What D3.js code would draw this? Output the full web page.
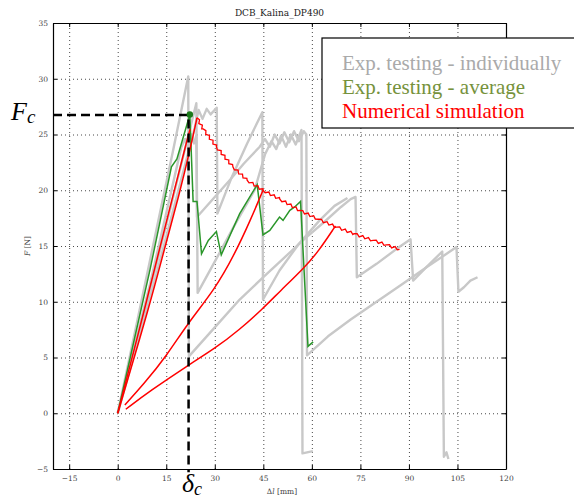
<!DOCTYPE html>
<html><head><meta charset="utf-8">
<script src="https://cdn.jsdelivr.net/npm/d3@7"></script>
<style>body{margin:0;background:#fff}svg{display:block}</style>
</head><body>
<svg id="c" width="574" height="501"></svg>
<script>
// ---------- data ----------
const title = "DCB_Kalina_DP490";
const xTicks = [-15,0,15,30,45,60,75,90,105,120];
const yTicks = [-5,0,5,10,15,20,25,30,35];
const legendLabels = ["Exp. testing - individually","Exp. testing - average","Numerical simulation"];

// experimental specimens (individually)
const specA = [[0,0],[6,8.2],[12,16.5],[17,23.4],[21.8,30.2],[22.0,5.1],[30,7.7],[37.7,10.2],[45,12.2],[52,14.1],[58,15.7],[64,17.2],[69,18.5],[72,19.2],[73.5,19.4],[73.9,12.2],[80,13.4],[86,14.7],[90.5,15.6],[91.3,11.9],[95,13.0],[100.3,14.5],[100.8,-3.9],[101.6,-3.5],[102.2,-4.1]];
const specB = [[0,0],[12,13.4],[24.3,27.8],[24.7,10.8],[30,13.6],[36,16.8],[42.3,20.0],[45.5,23.2],[47.5,24.4],[49,23.7],[50.5,24.9],[52,23.9],[53.5,25.0],[55,24.1],[56.8,25.4],[57.1,-3.6],[60.3,-3.4]];
const specC = [[0,0],[12,12.5],[23.8,25.6],[25,27.2],[26.2,26.4],[27.5,27.3],[28.7,26.8],[30.6,27.4],[30.8,17.9],[35,21.0],[40,24.2],[44.7,27.0],[44.9,10.2],[50,12.8],[56,15.2],[62.4,17.3],[67,18.6],[71,19.3]];
const specD = [[0,0],[10,11.6],[19.6,23.8],[20.8,24.6],[21.8,23.9],[22.8,25.0],[23.6,24.2],[24.3,24.9],[24.5,17.6],[30,19.4],[34.6,20.9],[39,22.4],[43.9,23.9],[45.5,24.6],[47,23.9],[48.5,25.0],[50,24.2],[51.5,25.2],[53,24.3],[54.5,25.3],[56,24.4],[57.5,25.3],[58.3,25.0],[58.5,5.2],[65,6.9],[72,8.4],[80,10.0],[88,11.6],[96,13.2],[104.7,14.9],[105.3,10.9],[107,11.3],[109,11.9],[111.2,12.2]];

// experimental average
const average = [[0,0],[10,12.9],[16.6,22.1],[18.3,22.8],[22.3,26.8],[23.3,19.0],[24.5,19.0],[25.9,14.3],[28,15.5],[30.5,16.3],[32.0,14.2],[37.7,17.9],[43.1,20.5],[44.9,16.0],[47,16.4],[50,17.6],[51.1,17.3],[53.2,18.2],[54.7,18.5],[56.5,19.0],[58.8,6.0],[60.4,6.4]];

// numerical simulation
const numLoadA = [[0,0],[10.2,10],[14.3,14.6],[19,19.6],[22.5,23.8],[24.5,26.5]];
const numLoadB = [[0,0],[8.9,10],[12.8,14.6],[17,19.4],[21.4,24.5],[22.4,25.5]];
const numReloadC = [[2.2,0.75],[8,2.6],[15,5.1],[21.7,8.1],[30,11.1],[36.2,14.3],[41,17.3],[44.9,20.0]];
const numReloadD = [[2.5,0.36],[10,2.0],[21.7,4.3],[30,5.8],[37.7,7.5],[44.9,9.4],[50,10.9],[57.8,13.1],[62,14.5],[67.3,16.8]];
const numEnvelope = [[24.5,26.5],[26.4,25.5],[30.5,23.9],[35.6,22.1],[40,20.9],[44.9,20.0],[50.1,19.2],[56.2,18.2],[62,17.4],[67.6,16.7],[73,16.1],[78.9,15.5],[83,15.1],[87.1,14.7]];

// critical point
const deltaC = 21.9, forceC = 26.75;
const avgPeak = [22.3, 26.8];

// ---------- drawing ----------
const svg = d3.select("#c");
const L=53, R=506, T=23, B=469;
const x = d3.scaleLinear().domain([-20,120]).range([L,R]);
const y = d3.scaleLinear().domain([-5,35]).range([B,T]);
const serif = "'DejaVu Serif', serif";
const times = "'Liberation Serif', 'Times New Roman', serif";

// grid
const gx = svg.append("g").attr("transform",`translate(0,${B})`)
  .call(d3.axisBottom(x).tickValues(xTicks).tickSize(-(B-T)).tickFormat(""));
const gy = svg.append("g").attr("transform",`translate(${L},0)`)
  .call(d3.axisLeft(y).tickValues(yTicks).tickSize(-(R-L)).tickFormat(""));
[gx,gy].forEach(g=>{ g.select(".domain").remove();
  g.selectAll("line").attr("stroke","#333").attr("stroke-width",0.9).attr("stroke-dasharray","1,3"); });

// curves
const line = d3.line().x(d=>x(d[0])).y(d=>y(d[1]));
const smooth = d3.line().x(d=>x(d[0])).y(d=>y(d[1])).curve(d3.curveBasis);
function sawCurve(context){
  let pts=[];
  return {
    areaStart(){}, areaEnd(){},
    lineStart(){pts=[];},
    point(px,py){pts.push([px,py]);},
    lineEnd(){
      if(!pts.length) return;
      context.moveTo(pts[0][0],pts[0][1]);
      const step=3.0, amp=1.2; let k=0;
      for(let i=1;i<pts.length;i++){
        const [x0,y0]=pts[i-1],[x1,y1]=pts[i];
        const dx=x1-x0, dy=y1-y0, len=Math.hypot(dx,dy);
        const nx=-dy/len, ny=dx/len;
        for(let s=step;s<len;s+=step){
          const t=s/len, sg=(k++%2?1:-1)*amp;
          context.lineTo(x0+dx*t+nx*sg, y0+dy*t+ny*sg);
        }
        context.lineTo(x1,y1);
      }
    }
  };
}
const sawLine = d3.line().x(d=>x(d[0])).y(d=>y(d[1])).curve(sawCurve);

const gray="#c8c8c8", green="#2a962a", red="#ff0000";
[specA,specB,specC,specD].forEach(s=>svg.append("path").attr("d",line(s))
  .attr("fill","none").attr("stroke",gray).attr("stroke-width",2.4).attr("stroke-linejoin","round"));
svg.append("path").attr("d",line(average)).attr("fill","none").attr("stroke",green).attr("stroke-width",1.5);
[numLoadA,numLoadB,numReloadC,numReloadD].forEach(s=>svg.append("path").attr("d",smooth(s))
  .attr("fill","none").attr("stroke",red).attr("stroke-width",1.5));
svg.append("path").attr("d",sawLine(numEnvelope)).attr("fill","none").attr("stroke",red).attr("stroke-width",1.3);

// critical dashed lines & dot
svg.append("path").attr("d",line([[-20,forceC],[deltaC,forceC],[deltaC,-5.3]]))
  .attr("fill","none").attr("stroke","#000").attr("stroke-width",2.5).attr("stroke-dasharray","9,5");
svg.append("circle").attr("cx",x(avgPeak[0])).attr("cy",y(avgPeak[1])).attr("r",3.2).attr("fill","#1a7a1a");

// axes (inward ticks on all sides)
const ax = (g,a)=>{ g.call(a); g.select(".domain").attr("stroke","#000").attr("stroke-width",1.2);
  g.selectAll("line").attr("stroke","#000"); g.selectAll("text").attr("font-family",serif).attr("font-size",7.5).attr("fill","#444"); return g; };
ax(svg.append("g").attr("transform",`translate(0,${B})`),
  d3.axisBottom(x).tickValues(xTicks).tickSizeInner(-4).tickSizeOuter(0).tickPadding(7));
ax(svg.append("g").attr("transform",`translate(${L},0)`),
  d3.axisLeft(y).tickValues(yTicks).tickSizeInner(-4).tickSizeOuter(0).tickPadding(5));
ax(svg.append("g").attr("transform",`translate(0,${T})`),
  d3.axisTop(x).tickValues(xTicks).tickSizeInner(-4).tickSizeOuter(0).tickFormat(""));
ax(svg.append("g").attr("transform",`translate(${R},0)`),
  d3.axisRight(y).tickValues(yTicks).tickSizeInner(-4).tickSizeOuter(0).tickFormat(""));

// titles
svg.append("text").attr("x",(L+R)/2).attr("y",16).attr("text-anchor","middle")
  .attr("font-family",serif).attr("font-size",9).attr("fill","#222").text(title);
const xl = svg.append("text").attr("x",282).attr("y",494).attr("text-anchor","middle")
  .attr("font-family",serif).attr("font-size",7.5).attr("fill","#444");
xl.append("tspan").text("Δ"); xl.append("tspan").attr("font-style","italic").text("l"); xl.append("tspan").text(" [mm]");
const yl = svg.append("text").attr("transform","translate(30,246) rotate(-90)").attr("text-anchor","middle")
  .attr("font-family",serif).attr("font-size",7.5).attr("fill","#444");
yl.append("tspan").attr("font-style","italic").text("F"); yl.append("tspan").text(" [N]");

// Fc / δc annotations
const fc = svg.append("text").attr("x",11).attr("y",120).attr("font-family",times)
  .attr("font-style","italic").attr("font-size",26).attr("fill","#000");
fc.append("tspan").text("F"); fc.append("tspan").attr("font-size",19).attr("dy",3).text("c");
const dc = svg.append("text").attr("x",182).attr("y",492).attr("font-family",times)
  .attr("font-style","italic").attr("font-size",26).attr("fill","#000");
dc.append("tspan").text("δ"); dc.append("tspan").attr("font-size",18).attr("dy",3).text("c");

// legend
svg.append("rect").attr("x",322).attr("y",38).attr("width",270).attr("height",90)
  .attr("fill","#fff").attr("stroke","#000").attr("stroke-width",1.2);
const legColors=["#aaaaaa","#76923c","#ff0000"];
legendLabels.forEach((t,i)=>svg.append("text").attr("x",342).attr("y",70+i*24)
  .attr("font-family",times).attr("font-size",21).attr("fill",legColors[i]).text(t));
</script>
</body></html>
